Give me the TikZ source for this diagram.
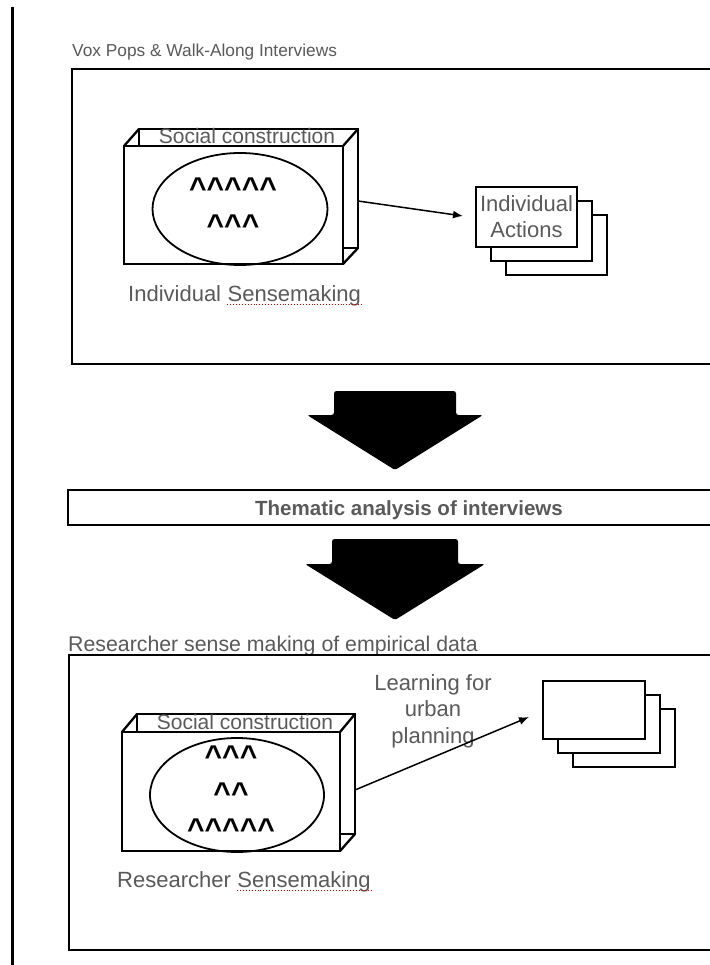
\documentclass[tikz,border=0pt]{standalone}
\usepackage{fontspec}
\setmainfont{Liberation Sans}
\usetikzlibrary{arrows.meta,shapes.geometric}
\definecolor{txt}{HTML}{5A5A5A}
\begin{document}
\begin{tikzpicture}[x=1pt,y=-1pt,
  frame/.style={draw=black,line width=2.8pt,inner sep=0pt,outer sep=0pt},
  boxline/.style={draw=black,fill=white,line width=2.3pt,inner sep=0pt,outer sep=0pt},
  edge3d/.style={draw=black,line width=2.3pt},
  oval/.style={ellipse,draw=black,line width=1.8pt,inner sep=0pt},
  lbl/.style={text=txt,inner sep=0pt,font=\fontsize{22}{26}\selectfont},
  caretrow/.style={inner sep=0pt,font=\bfseries\fontsize{30}{30}\selectfont},
  bigarrow/.style={fill=black,rounded corners=2.5pt},
  conn/.style={draw=black,line width=1.5pt,-{Latex[length=10pt,width=8pt]}},
  spell/.style={draw=red!85!black,line width=0.9pt,dotted}
]
\useasboundingbox (0,0) rectangle (709,965);
\fill[white] (0,0) rectangle (709,965);
\draw[line width=2.2pt] (12.5,7) -- (12.5,965);

% ---------- top section ----------
\node[lbl,anchor=base west,font=\fontsize{17.3}{20}\selectfont] (title1) at (72,57) {Vox Pops \& Walk-Along Interviews};
\node[frame,minimum width=643pt,minimum height=295pt] (topframe) at (393.5,216.5) {};

\node[boxline,minimum width=219pt,minimum height=119pt] (back3d) at (248.5,188.5) {};
\node[boxline,minimum width=219pt,minimum height=118pt] (front3d) at (233.5,205) {};
\draw[edge3d] (front3d.north west) -- (back3d.north west)
              (front3d.north east) -- (back3d.north east)
              (front3d.south east) -- (back3d.south east);
\node[lbl,anchor=base,font=\fontsize{21}{24}\selectfont] (sc1) at (247,143.5) {Social construction};
\node[oval,minimum width=175pt,minimum height=112pt] (ell1) at (240,209) {};
\node[caretrow,anchor=base] (car1a) at (233,198.5) {\textasciicircum\textasciicircum\textasciicircum\textasciicircum\textasciicircum};
\node[caretrow,anchor=base] (car1b) at (233,236) {\textasciicircum\textasciicircum\textasciicircum};

\node[lbl,anchor=base west] (ind) at (128,301) {Individual};
\node[lbl,anchor=base west] (sens1) at ([xshift=6.1pt]ind.base east) {Sensemaking};
\draw[spell] ([yshift=-3.5pt]sens1.base west) -- ([yshift=-3.5pt]sens1.base east);

\node[boxline,minimum width=101pt,minimum height=60pt] (act3) at (556.5,245) {};
\node[boxline,minimum width=101pt,minimum height=60pt] (act2) at (541.5,231) {};
\node[boxline,minimum width=101pt,minimum height=60pt] (act1) at (526.5,217) {};
\node[lbl,align=center] (acttxt) at (526.5,216.7) {Individual\\Actions};

\coordinate (a1s) at (358,201);
\coordinate (a1e) at (463,216);
\draw[conn] (a1s) -- (a1e);

% ---------- big arrows and thematic box ----------
\fill[bigarrow] (334,415) -- (334,391) -- (456,391) -- (456,415) -- (483,415) -- (395,470) -- (307,415) -- cycle;
\node[frame,minimum width=647pt,minimum height=35pt] (thematic) at (391.5,507.5) {};
\node[inner sep=0pt,anchor=base,text=txt,font=\bfseries\fontsize{20.5}{24}\selectfont] (themtxt) at (409,515) {Thematic analysis of interviews};
\fill[bigarrow] (332,564) -- (332,539) -- (458,539) -- (458,564) -- (485,564) -- (395,620) -- (305,564) -- cycle;

% ---------- bottom section ----------
\node[lbl,anchor=base west,font=\fontsize{21.3}{24}\selectfont] (title2) at (68,651) {Researcher sense making of empirical data};
\node[frame,minimum width=646pt,minimum height=295pt] (botframe) at (392,802.5) {};

\node[boxline,minimum width=218pt,minimum height=120pt] (back3db) at (246,774) {};
\node[boxline,minimum width=218pt,minimum height=119pt] (front3db) at (231,791.5) {};
\draw[edge3d] (front3db.north west) -- (back3db.north west)
              (front3db.north east) -- (back3db.north east)
              (front3db.south east) -- (back3db.south east);
\node[lbl,anchor=base,font=\fontsize{21}{24}\selectfont] (sc2) at (245,729) {Social construction};
\node[oval,minimum width=174pt,minimum height=114pt] (ell2) at (237,795) {};
\node[caretrow,anchor=base] (car2a) at (231,766) {\textasciicircum\textasciicircum\textasciicircum};
\node[caretrow,anchor=base] (car2b) at (231,803) {\textasciicircum\textasciicircum};
\node[caretrow,anchor=base] (car2c) at (231,839) {\textasciicircum\textasciicircum\textasciicircum\textasciicircum\textasciicircum};

\node[lbl,anchor=base west] (res) at (117,887) {Researcher};
\node[lbl,anchor=base west] (sens2) at ([xshift=6.1pt]res.base east) {Sensemaking};
\draw[spell] ([yshift=-3.5pt]sens2.base west) -- ([yshift=-3.5pt]sens2.base east);

\node[boxline,minimum width=102pt,minimum height=58pt] (out3) at (624,738) {};
\node[boxline,minimum width=102pt,minimum height=58pt] (out2) at (609,724) {};
\node[boxline,minimum width=102pt,minimum height=58pt] (out1) at (594,710) {};

\node[lbl,align=center,font=\fontsize{22}{26.5}\selectfont] (learn) at (433,711) {Learning for\\urban\\planning};
\coordinate (a2s) at (355,790);
\coordinate (a2e) at (529,717);
\draw[conn] (a2s) -- (a2e);
\end{tikzpicture}
\end{document}
